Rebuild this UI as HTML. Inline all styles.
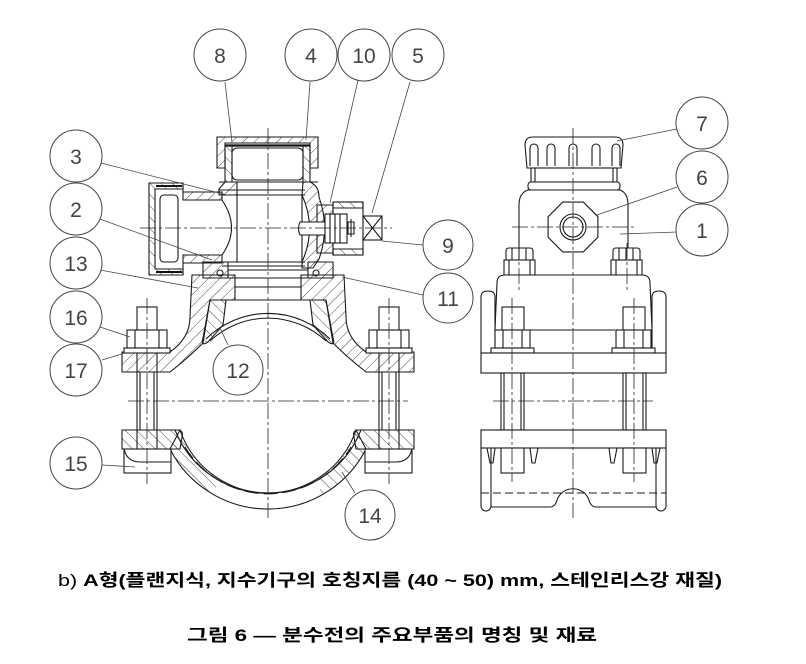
<!DOCTYPE html>
<html><head><meta charset="utf-8"><style>
html,body{margin:0;padding:0;background:#fff;}
svg{display:block}
.o{fill:none;stroke:#1a1a1a;stroke-width:1.1}
.w{fill:#fff;stroke:#1a1a1a;stroke-width:1.1}
.hh{fill:url(#h);stroke:#1a1a1a;stroke-width:1.1}
.hk{fill:url(#k);stroke:#1a1a1a;stroke-width:1.1}
.c{fill:none;stroke:#222;stroke-width:0.8;stroke-dasharray:16 3 3 3}
.l{fill:none;stroke:#444;stroke-width:0.8}
.b{fill:#fff;stroke:#444;stroke-width:1}
.t{font-family:"Liberation Sans",sans-serif;font-size:21px;fill:#444;text-anchor:middle}
.cap{font-family:"Liberation Sans","Noto Sans CJK KR",sans-serif;font-size:17px;fill:#000}
</style></head><body>
<svg width="806" height="664" viewBox="0 0 806 664" xmlns="http://www.w3.org/2000/svg">
<defs>
<pattern id="h" width="8" height="8" patternUnits="userSpaceOnUse" patternTransform="rotate(45)"><line x1="0" y1="0" x2="0" y2="8" stroke="#333" stroke-width="0.9"/></pattern>
<pattern id="k" width="8" height="8" patternUnits="userSpaceOnUse" patternTransform="rotate(-45)"><line x1="0" y1="0" x2="0" y2="8" stroke="#333" stroke-width="0.9"/></pattern>
<clipPath id="bc"><rect x="150" y="420" width="66" height="100"/><rect x="320" y="420" width="70" height="100"/></clipPath>
</defs>
<rect width="806" height="664" fill="#fff"/>

<!-- ===== LEFT VIEW ===== -->
<!-- cap 8 -->
<path class="hh" fill-rule="evenodd" d="M217,137 H318 V168 H310 V143 H225 V168 H217 Z"/>
<line x1="225" y1="145.5" x2="310" y2="145.5" stroke="#111" stroke-width="2.2"/>
<path class="hk" d="M225,146 H232 V182 H225 Z M303,146 H310 V182 H303 Z"/>
<rect class="o" x="232" y="148" width="71" height="32" rx="5"/>
<path class="o" d="M219,182 H318"/>

<!-- body -->
<path class="hh" d="M225,182 H237 V195 H219 V189 Z"/>
<path class="hh" d="M303,182 H310 Q319,186 319,197 Q330,228 319,259 L313,268 H302 V262 Q317,228 302,195 Z"/>
<path class="o" d="M219,190 H305 M219,195 H305 M222,262 H305 M222,266 H305 M237,195 V262 M302,195 V262"/>

<!-- branch 3 -->
<path class="hk" fill-rule="evenodd" d="M149,183 H183 V189 H155 V269 H183 V275 H149 Z"/>
<path class="hh" d="M183,192 H222 V200 H183 Z M183,255 H222 V263 H183 Z"/>
<path class="o" d="M183,183 V192 M183,263 V275"/>
<line x1="156" y1="186" x2="182" y2="186" stroke="#111" stroke-width="2"/>
<line x1="156" y1="272" x2="182" y2="272" stroke="#111" stroke-width="2"/>
<rect class="o" x="160" y="195" width="18" height="67" rx="4"/>
<path class="o" d="M222,200 Q241,228 222,255"/>

<!-- side valve 10/5/9 -->
<path class="hh" d="M317,205 H333 V253 H317 Z"/>
<rect class="o" x="333" y="202" width="30" height="53"/>
<path class="hk" d="M333,202 H363 V208 H333 Z M333,249 H363 V255 H333 Z"/>
<path class="w" d="M300,222 H325 V235 H300 Q297,228.5 300,222 Z"/>
<rect class="w" x="325" y="214" width="22" height="29"/>
<path class="o" d="M330,214 V243 M335,214 V243 M340,214 V243"/>
<path class="o" d="M348,222 H354 V234 H348 Z M351,219 V237"/>
<rect class="w" x="363" y="216" width="19" height="24"/>
<path class="o" d="M363,216 L382,240 M382,216 L363,240"/>

<!-- bottom ring -->
<path class="hh" d="M203,262 H228 V278 H203 Z M308,262 H333 V278 H308 Z"/>
<path class="o" d="M228,270 H308 M228,278 H308"/>
<circle class="w" cx="220" cy="273" r="3"/>
<circle class="w" cx="316" cy="273" r="3"/>

<!-- saddle 13 -->
<path class="hh" d="M192,275 H235 V300 H210 L203,343 Q188,358 170,372 H122 V352 H170 Q190,338 190,317 Z"/>
<path class="hh" d="M344,275 H301 V300 H326 L333,343 Q348,358 366,372 H414 V352 H366 Q346,338 346,317 Z"/>
<path class="o" d="M235,287 H301 M210,300 H326"/>
<!-- gasket 12 -->
<path class="hk" d="M210,300 H226 L223,325 L208,342 Q200,347 203,338 Z"/>
<path class="hk" d="M326,300 H310 L313,325 L328,342 Q336,347 333,338 Z"/>
<!-- pipe top -->
<path class="o" d="M206,339 A88 88 0 0 1 330,339 M210,341 A85 85 0 0 1 326,341"/>

<!-- bolts left -->
<rect class="w" x="137" y="307" width="20" height="23"/>
<rect class="w" x="127" y="330" width="40" height="18"/>
<path class="o" d="M135,330 V348 M159,330 V348"/>
<rect class="w" x="124" y="348" width="46" height="5"/>
<path class="o" d="M137,353 V430 M157,353 V430 M140,372 V430 M154,372 V430"/>
<!-- bolts right -->
<rect class="w" x="379" y="307" width="20" height="23"/>
<rect class="w" x="369" y="330" width="40" height="18"/>
<path class="o" d="M377,330 V348 M401,330 V348"/>
<rect class="w" x="366" y="348" width="46" height="5"/>
<path class="o" d="M379,353 V430 M399,353 V430 M382,372 V430 M396,372 V430"/>

<!-- lower band 14 -->
<path class="w" d="M180,430 A93 93 0 0 0 356,430 L366,449 A110 110 0 0 1 170,449 Z"/>
<path fill="url(#k)" clip-path="url(#bc)" d="M180,430 A93 93 0 0 0 356,430 L366,449 A110 110 0 0 1 170,449 Z"/>
<path class="o" d="M185,447 A97 97 0 0 0 351,447" stroke-dasharray="14 5"/>
<path class="o" d="M175,430 A100 100 0 0 0 361,430"/>

<!-- lower plates -->
<path class="hk" d="M122,430 H177 Q184,430 182,437 L180,449 H122 Z"/>
<path class="hk" d="M414,430 H359 Q352,430 354,437 L356,449 H414 Z"/>
<path class="o" d="M137,430 V449 M157,430 V449 M379,430 V449 M399,430 V449"/>
<rect class="w" x="124" y="449" width="47" height="24"/>
<path class="o" d="M124,449 Q127,462 140,462 H171"/>
<rect class="w" x="365" y="449" width="47" height="24"/>
<path class="o" d="M412,449 Q409,462 396,462 H365"/>

<!-- centerlines left -->
<path class="c" d="M268,128 V518"/>
<path class="c" d="M140,228 H392"/>
<path class="c" d="M128,401 H408"/>
<path class="c" d="M147,298 V484"/>
<path class="c" d="M389,298 V484"/>

<!-- ===== RIGHT VIEW ===== -->
<path class="w" d="M527,168 L525,145 Q525,137 533,137 H615 Q623,137 623,145 L621,168 Z"/>
<path class="o" d="M530,166 V148 A4,4 0 0 1 538,148 V166 M547,166 V148 A4,4 0 0 1 555,148 V166 M569,166 V148 A4,4 0 0 1 577,148 V166 M592,166 V148 A4,4 0 0 1 600,148 V166 M612,166 V148 A4,4 0 0 1 620,148 V166"/>
<rect class="w" x="531" y="168" width="86" height="14"/>
<path class="o" d="M535,168 V182 M613,168 V182"/>
<rect class="w" x="528" y="182" width="92" height="8" rx="3"/>
<path class="w" d="M519,262 V205 Q519,193 528,190 H620 Q628,193 628,205 V262"/>
<polygon class="w" points="597.9,216.7 583.3,202.1 562.7,202.1 548.1,216.7 548.1,237.3 562.7,251.9 583.3,251.9 597.9,237.3"/>
<circle class="w" cx="573" cy="227" r="13"/>
<circle class="o" cx="573" cy="227" r="10"/>

<path class="w" d="M506,260 V251 Q506,248 509,248 H530 Q533,248 533,251 V260 Z"/>
<path class="o" d="M512,248 V260 M519,248 V260 M526,248 V260"/>
<path class="w" d="M613,260 V251 Q613,248 616,248 H637 Q640,248 640,251 V260 Z"/>
<path class="o" d="M619,248 V260 M626,248 V260 M633,248 V260"/>
<rect class="w" x="504" y="260" width="31" height="15"/>
<path class="o" d="M509,260 V275 M530,260 V275"/>
<rect class="w" x="611" y="260" width="31" height="15"/>
<path class="o" d="M616,260 V275 M637,260 V275"/>

<path class="w" d="M494,353 L497,283 Q497,275 505,275 H642 Q650,275 650,283 L653,353"/>
<path class="o" d="M530,330 H615"/>
<path class="w" d="M481,353 V297 Q481,291 488,291 Q495,291 495,297 V353"/>
<path class="w" d="M652,353 V297 Q652,291 659,291 Q666,291 666,297 V353"/>
<rect class="w" x="502" y="307" width="22" height="23"/>
<rect class="w" x="623" y="307" width="22" height="23"/>
<rect class="w" x="495" y="330" width="35" height="18"/>
<path class="o" d="M503,330 V348 M522,330 V348"/>
<rect class="w" x="616" y="330" width="35" height="18"/>
<path class="o" d="M624,330 V348 M643,330 V348"/>
<rect class="w" x="491" y="348" width="43" height="5"/>
<rect class="w" x="612" y="348" width="43" height="5"/>
<rect class="w" x="481" y="353" width="185" height="20"/>
<rect class="w" x="501" y="373" width="23" height="57"/>
<path class="o" d="M504,373 V430 M521,373 V430"/>
<rect class="w" x="623" y="373" width="23" height="57"/>
<path class="o" d="M626,373 V430 M643,373 V430"/>
<rect class="w" x="481" y="430" width="185" height="18"/>
<path class="o" d="M481,448 V506 A5,5 0 0 0 491,506 V448"/>
<path class="o" d="M656,448 V506 A5,5 0 0 0 666,506 V448"/>
<path class="o" d="M491,507 H550 Q555,507 557,500 A17,17 0 0 1 589,500 Q591,507 596,507 H656"/>
<path class="o" d="M481,493 H666" stroke-dasharray="8 4"/>
<rect class="w" x="501" y="448" width="23" height="25"/>
<rect class="w" x="623" y="448" width="23" height="25"/>
<path class="o" d="M487,448 L490,463 H493 L495,448 M530,448 L532,463 H535 L538,448 M609,448 L611,463 H614 L617,448 M652,448 L654,463 H657 L660,448"/>

<path class="c" d="M573,128 V518"/>
<path class="c" d="M512,227 H635"/>
<path class="c" d="M493,401 H653"/>
<path class="c" d="M519,243 V292"/>
<path class="c" d="M627,243 V292"/>
<path class="c" d="M512,298 V482"/>
<path class="c" d="M634,298 V482"/>

<!-- ===== LEADERS ===== -->
<path class="l" d="M225,82 L232,142 M310,82 L306,140 M358,80 L330,203 M410,82 L372,213 M423,245 L382,241 M423,295 L342,277 M101,163 L227,195 M100,219 L212,260 M100,270 L198,288 M100,327 L130,337 M102,360 L125,353 M102,465 L135,467 M228,345 L220,328 M355,493 L342,472 M677,129 L617,141 M677,187 L597,215 M677,232 L620,234"/>

<!-- ===== BALLOONS ===== -->
<circle class="b" cx="220" cy="55" r="26"/><text class="t" x="220" y="63">8</text>
<circle class="b" cx="311" cy="55" r="26"/><text class="t" x="311" y="63">4</text>
<circle class="b" cx="364" cy="55" r="26"/><text class="t" x="364" y="63">10</text>
<circle class="b" cx="418" cy="55" r="26"/><text class="t" x="418" y="63">5</text>
<circle class="b" cx="448" cy="245" r="25"/><text class="t" x="448" y="253">9</text>
<circle class="b" cx="448" cy="298" r="25"/><text class="t" x="448" y="306">11</text>
<circle class="b" cx="76" cy="156" r="26"/><text class="t" x="76" y="164">3</text>
<circle class="b" cx="76" cy="209" r="26"/><text class="t" x="76" y="217">2</text>
<circle class="b" cx="76" cy="263" r="26"/><text class="t" x="76" y="271">13</text>
<circle class="b" cx="76" cy="317" r="26"/><text class="t" x="76" y="325">16</text>
<circle class="b" cx="76" cy="370" r="26"/><text class="t" x="76" y="378">17</text>
<circle class="b" cx="76" cy="463" r="26"/><text class="t" x="76" y="471">15</text>
<circle class="b" cx="238" cy="370" r="25"/><text class="t" x="238" y="378">12</text>
<circle class="b" cx="370" cy="515" r="25"/><text class="t" x="370" y="523">14</text>
<circle class="b" cx="702" cy="123" r="26"/><text class="t" x="702" y="131">7</text>
<circle class="b" cx="702" cy="177" r="26"/><text class="t" x="702" y="185">6</text>
<circle class="b" cx="702" cy="230" r="26"/><text class="t" x="702" y="238">1</text>

<!-- ===== CAPTIONS ===== -->
<text class="cap" x="58" y="586" textLength="664" lengthAdjust="spacingAndGlyphs">b) <tspan font-weight="bold">A형(플랜지식, 지수기구의 호칭지름 (40 ~ 50) mm, 스테인리스강 재질)</tspan></text>
<text class="cap" x="187" y="641" font-weight="bold" textLength="410" lengthAdjust="spacingAndGlyphs">그림 6 — 분수전의 주요부품의 명칭 및 재료</text>
</svg>
</body></html>
